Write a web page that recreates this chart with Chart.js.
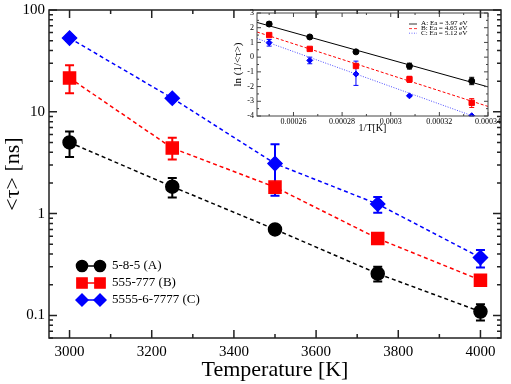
<!DOCTYPE html>
<html>
<head>
<meta charset="utf-8">
<script src="https://cdn.jsdelivr.net/npm/chart.js@4.4.1/dist/chart.umd.min.js"></script>
<style>
  body { margin: 0; background: #fff; }
  #wrap { position: relative; width: 511px; height: 384px; }
  #main { position: absolute; left: 0; top: 0; }
  #inset { position: absolute; left: 222px; top: 8px; }
</style>
</head>
<body>
<div id="wrap">
  <canvas id="main" width="511" height="384"></canvas>
  <canvas id="inset" width="289" height="130"></canvas>
</div>
<script>
// main plot data
var temps = [3000, 3250, 3500, 3750, 4000];
var tauA = [5.0, 1.84, 0.70, 0.257, 0.109];
var tauA_lo = [3.6, 1.44, 0.67, 0.215, 0.089];
var tauA_hi = [6.4, 2.24, 0.73, 0.30, 0.129];
var tauB = [21.5, 4.4, 1.82, 0.569, 0.222];
var tauB_lo = [15.2, 3.4, 1.65, 0.54, 0.196];
var tauB_hi = [28.6, 5.55, 2.0, 0.60, 0.25];
var tauC = [53, 13.6, 3.1, 1.24, 0.37];
var tauC_lo = [50, 13, 1.5, 1.02, 0.296];
var tauC_hi = [56, 14.3, 4.8, 1.46, 0.44];
var names = ["5-8-5 (A)", "555-777 (B)", "5555-6-7777 (C)"];

var xTicks = [3000, 3200, 3400, 3600, 3800, 4000];
var xMinor = [3100, 3300, 3500, 3700, 3900];
var yTicks = [0.1, 1, 10, 100];
var yMinor = [0.06, 0.07, 0.08, 0.09, 0.2, 0.3, 0.4, 0.5, 0.6, 0.7, 0.8, 0.9,
  2, 3, 4, 5, 6, 7, 8, 9, 20, 30, 40, 50, 60, 70, 80, 90];

// inset data: ln(1/<tau>) vs 1/T
var invT = [0.00025, 0.0002667, 0.0002857, 0.0003077, 0.0003333];
var lnA = [2.25, 1.37, 0.36, -0.61, -1.62];
var lnA_lo = [2.1, 1.27, 0.31, -0.81, -1.87];
var lnA_hi = [2.4, 1.47, 0.41, -0.41, -1.37];
var lnB = [1.5, 0.56, -0.6, -1.5, -3.1];
var lnB_lo = [1.42, 0.5, -0.66, -1.72, -3.42];
var lnB_hi = [1.58, 0.62, -0.54, -1.3, -2.82];
var lnC = [0.98, -0.22, -1.15, -2.63, -3.98];
var lnC_lo = [0.75, -0.45, -1.92, -2.68, -4.0];
var lnC_hi = [1.2, 0.0, -0.27, -2.58, -3.96];
var fitX = [0.000245, 0.00034];
var fitA = [2.36, -2.02];
var fitB = [1.71, -3.35];
var fitC = [1.27, -4.37];
var fitNames = ["A: Ea = 3.97 eV", "B: Ea = 4.65 eV", "C: Ea = 5.12 eV"];

var insetXTicks = [0.00026, 0.00028, 0.0003, 0.00032, 0.00034];
var insetXMinor = [0.00025, 0.00027, 0.00029, 0.00031, 0.00033];
var insetYTicks = [-4, -3, -2, -1, 0, 1, 2, 3];
var insetYMinor = [-3.5, -2.5, -1.5, -0.5, 0.5, 1.5, 2.5];

var SERIF = "'Liberation Serif', 'DejaVu Serif', serif";
var BLUE = "#0000ff", RED = "#ff0000";

function xy(xs, ys) {
  return xs.map(function (x, i) { return { x: x, y: ys[i] }; });
}

function errorBars(cap, width) {
  return {
    id: "errorBars",
    beforeDatasetsDraw: function (chart) {
      var ctx = chart.ctx, sx = chart.scales.x, sy = chart.scales.y;
      ctx.save();
      ctx.lineWidth = width;
      ctx.setLineDash([]);
      chart.data.datasets.forEach(function (ds) {
        if (!ds.errLo) return;
        ctx.strokeStyle = ds.borderColor;
        ds.data.forEach(function (p, i) {
          var px = sx.getPixelForValue(p.x);
          var lo = sy.getPixelForValue(ds.errLo[i]);
          var hi = sy.getPixelForValue(ds.errHi[i]);
          ctx.beginPath();
          ctx.moveTo(px, lo); ctx.lineTo(px, hi);
          ctx.moveTo(px - cap, lo); ctx.lineTo(px + cap, lo);
          ctx.moveTo(px - cap, hi); ctx.lineTo(px + cap, hi);
          ctx.stroke();
        });
      });
      ctx.restore();
    }
  };
}

function frame(c) {
  return {
    id: "frame",
    afterDraw: function (chart) {
      var ctx = chart.ctx, a = chart.chartArea, sx = chart.scales.x, sy = chart.scales.y;
      ctx.save();
      ctx.strokeStyle = c.color;
      ctx.lineWidth = c.width;
      ctx.strokeRect(a.left, a.top, a.right - a.left, a.bottom - a.top);
      ctx.beginPath();
      function xt(v, len) {
        var p = sx.getPixelForValue(v);
        ctx.moveTo(p, a.bottom); ctx.lineTo(p, a.bottom - len);
        ctx.moveTo(p, a.top); ctx.lineTo(p, a.top + len);
      }
      function yt(v, len) {
        var p = sy.getPixelForValue(v);
        ctx.moveTo(a.left, p); ctx.lineTo(a.left + len, p);
        ctx.moveTo(a.right, p); ctx.lineTo(a.right - len, p);
      }
      c.xMajor.forEach(function (v) { xt(v, c.major); });
      c.xMinor.forEach(function (v) { xt(v, c.minor); });
      c.yMajor.forEach(function (v) { yt(v, c.major); });
      c.yMinor.forEach(function (v) { yt(v, c.minor); });
      ctx.stroke();
      ctx.restore();
    }
  };
}

var mainLegend = {
  id: "mainLegend",
  afterDraw: function (chart) {
    var ctx = chart.ctx;
    ctx.save();
    chart.data.datasets.forEach(function (ds, i) {
      var y = 266 + i * 17;
      ctx.strokeStyle = ds.borderColor;
      ctx.fillStyle = ds.borderColor;
      ctx.lineWidth = 1.5;
      ctx.setLineDash([]);
      ctx.beginPath();
      ctx.moveTo(82, y); ctx.lineTo(100, y);
      ctx.stroke();
      var o = { pointStyle: ds.pointStyle, radius: ds.pointRadius * 0.85, rotation: 0, borderWidth: 1 };
      Chart.helpers.drawPoint(ctx, o, 82, y);
      Chart.helpers.drawPoint(ctx, o, 100, y);
      ctx.fillStyle = "#000";
      ctx.font = "13px " + SERIF;
      ctx.textBaseline = "middle";
      ctx.fillText(names[i], 112, y);
    });
    ctx.restore();
  }
};

var insetLegend = {
  id: "insetLegend",
  afterDraw: function (chart) {
    var ctx = chart.ctx;
    var styles = [[], [3, 2], [1, 1.5]];
    ctx.save();
    for (var i = 0; i < 3; i++) {
      var ds = chart.data.datasets[i];
      var y = 16 + i * 4.6;
      ctx.strokeStyle = ds.borderColor;
      ctx.lineWidth = 0.8;
      ctx.setLineDash(styles[i]);
      ctx.beginPath();
      ctx.moveTo(187, y); ctx.lineTo(195, y);
      ctx.stroke();
      ctx.save();
      ctx.translate(199, y);
      ctx.scale(1.3, 1);
      ctx.fillStyle = "#000";
      ctx.font = "5.5px " + SERIF;
      ctx.textBaseline = "middle";
      ctx.fillText(fitNames[i], 0, 0);
      ctx.restore();
    }
    ctx.restore();
  }
};

new Chart(document.getElementById("main"), {
  type: "scatter",
  data: {
    datasets: [
      { data: xy(temps, tauA), errLo: tauA_lo, errHi: tauA_hi, showLine: true,
        borderColor: "#000", backgroundColor: "#000", borderWidth: 1.5, borderDash: [4, 3],
        pointStyle: "circle", pointRadius: 6.5 },
      { data: xy(temps, tauB), errLo: tauB_lo, errHi: tauB_hi, showLine: true,
        borderColor: RED, backgroundColor: RED, borderWidth: 1.5, borderDash: [4, 3],
        pointStyle: "rect", pointRadius: 8.5 },
      { data: xy(temps, tauC), errLo: tauC_lo, errHi: tauC_hi, showLine: true,
        borderColor: BLUE, backgroundColor: BLUE, borderWidth: 1.5, borderDash: [4, 3],
        pointStyle: "rectRot", pointRadius: 7 }
    ]
  },
  options: {
    responsive: false,
    animation: false,
    layout: { padding: { top: 6, right: 8, left: 0, bottom: 0 } },
    plugins: { legend: { display: false }, tooltip: { enabled: false } },
    scales: {
      x: {
        type: "linear", min: 2950, max: 4050,
        grid: { display: false, drawTicks: false },
        border: { display: false },
        afterBuildTicks: function (s) { s.ticks = xTicks.map(function (v) { return { value: v }; }); },
        afterFit: function (s) { s.height = 46; s.paddingLeft = 0; s.paddingRight = 0; },
        ticks: { color: "#000", font: { family: SERIF, size: 15 }, padding: 5, maxRotation: 0, autoSkip: false,
          callback: function (v) { return String(v); } },
        title: { display: true, text: "Temperature [K]", color: "#000",
          font: { family: SERIF, size: 22 }, padding: { top: 0, bottom: 1 } }
      },
      y: {
        type: "logarithmic", min: 0.06, max: 100,
        grid: { display: false, drawTicks: false },
        border: { display: false },
        afterBuildTicks: function (s) { s.ticks = yTicks.map(function (v) { return { value: v }; }); },
        afterFit: function (s) { s.width = 49; s.paddingTop = 0; s.paddingBottom = 0; },
        ticks: { color: "#000", font: { family: SERIF, size: 15 }, padding: 4, autoSkip: false,
          callback: function (v) { return String(v); } },
        title: { display: true, text: "<τ> [ns]", color: "#000",
          font: { family: SERIF, size: 22 }, padding: { top: 0, bottom: 0 } }
      }
    }
  },
  plugins: [errorBars(4.5, 2),
    frame({ color: "#222", width: 1.5, major: 8, minor: 4, xMajor: xTicks, xMinor: xMinor, yMajor: yTicks, yMinor: yMinor }),
    mainLegend]
});

new Chart(document.getElementById("inset"), {
  type: "scatter",
  data: {
    datasets: [
      { data: xy(fitX, fitA), showLine: true, borderColor: "#000", borderWidth: 1, pointRadius: 0 },
      { data: xy(fitX, fitB), showLine: true, borderColor: RED, borderWidth: 1, borderDash: [3, 2], pointRadius: 0 },
      { data: xy(fitX, fitC), showLine: true, borderColor: "#4a4aff", borderWidth: 1, borderDash: [1, 1.5], pointRadius: 0 },
      { data: xy(invT, lnA), errLo: lnA_lo, errHi: lnA_hi, borderColor: "#000", backgroundColor: "#000",
        pointStyle: "circle", pointRadius: 3 },
      { data: xy(invT, lnB), errLo: lnB_lo, errHi: lnB_hi, borderColor: RED, backgroundColor: RED,
        pointStyle: "rect", pointRadius: 3.8 },
      { data: xy(invT, lnC), errLo: lnC_lo, errHi: lnC_hi, borderColor: BLUE, backgroundColor: BLUE,
        pointStyle: "rectRot", pointRadius: 3 }
    ]
  },
  options: {
    responsive: false,
    animation: false,
    layout: { padding: { top: 5, right: 23, left: 0, bottom: 0 } },
    plugins: { legend: { display: false }, tooltip: { enabled: false } },
    scales: {
      x: {
        type: "linear", min: 0.000245, max: 0.00034,
        grid: { display: false, drawTicks: false },
        border: { display: false },
        afterBuildTicks: function (s) { s.ticks = insetXTicks.map(function (v) { return { value: v }; }); },
        afterFit: function (s) { s.height = 22; s.paddingLeft = 0; s.paddingRight = 0; },
        ticks: { color: "#000", font: { family: SERIF, size: 8 }, padding: 1, maxRotation: 0, autoSkip: false,
          callback: function (v) { return String(v); } },
        title: { display: true, text: "1/T[K]", color: "#000",
          font: { family: SERIF, size: 10 }, padding: { top: 0, bottom: 4 } }
      },
      y: {
        type: "linear", min: -4, max: 3,
        grid: { display: false, drawTicks: false },
        border: { display: false },
        afterBuildTicks: function (s) { s.ticks = insetYTicks.map(function (v) { return { value: v }; }); },
        afterFit: function (s) { s.width = 35; s.paddingTop = 0; s.paddingBottom = 0; },
        ticks: { color: "#000", font: { family: SERIF, size: 8 }, padding: 3, autoSkip: false },
        title: { display: true, text: "ln (1/<τ>)", color: "#000",
          font: { family: SERIF, size: 11 }, padding: { top: 10, bottom: 0 } }
      }
    }
  },
  plugins: [errorBars(2.5, 1),
    frame({ color: "#444", width: 1, major: 4, minor: 2, xMajor: insetXTicks, xMinor: insetXMinor, yMajor: insetYTicks, yMinor: insetYMinor }),
    insetLegend]
});
</script>
</body>
</html>
